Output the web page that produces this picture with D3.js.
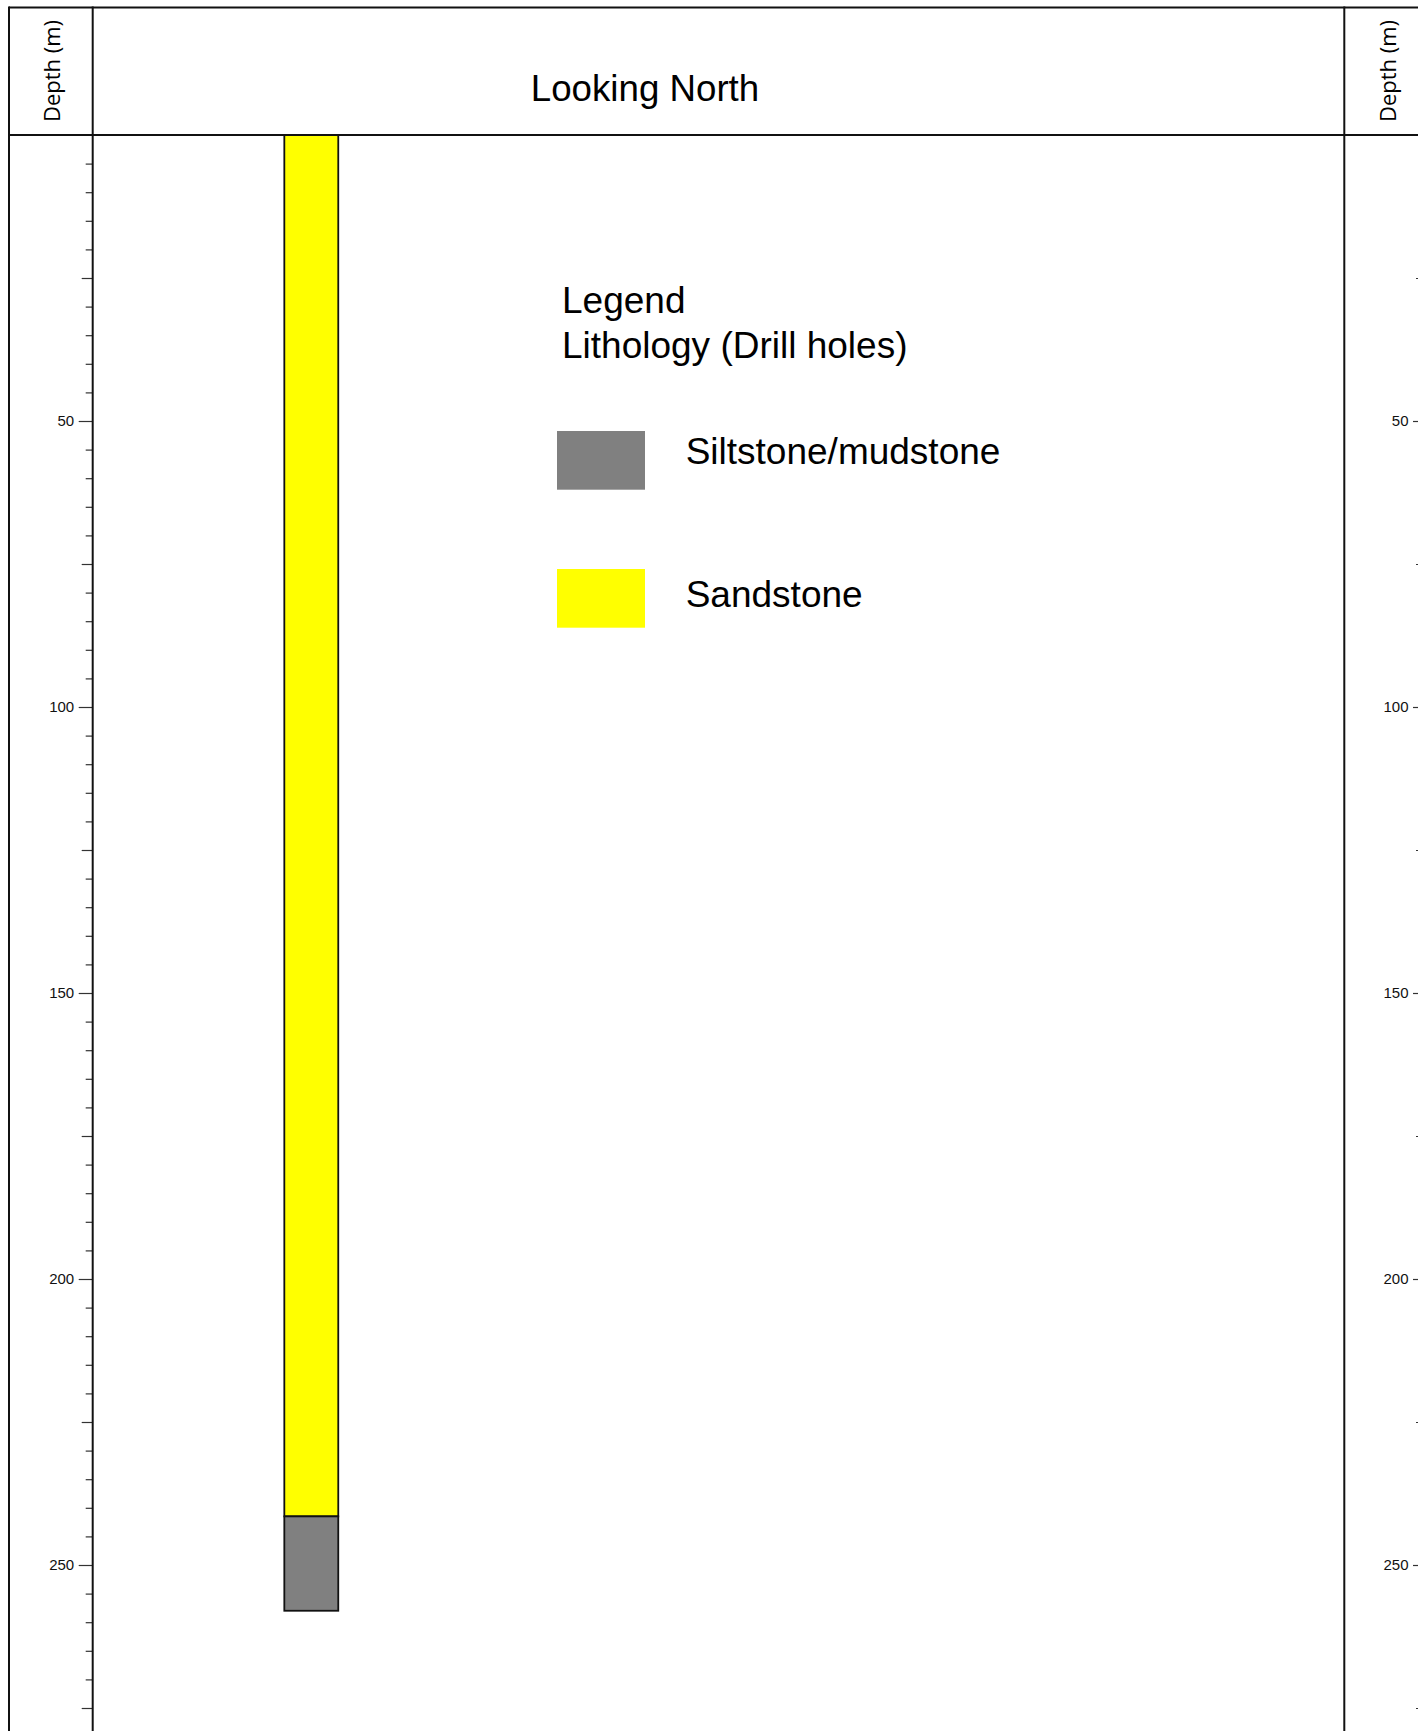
<!DOCTYPE html>
<html>
<head>
<meta charset="utf-8">
<script src="https://cdn.jsdelivr.net/npm/d3@7"></script>
<style>
  html, body { margin: 0; padding: 0; background: #fff; overflow: hidden; }
  svg { display: block; }
</style>
</head>
<body>
<script>
// ---- Data ----
const title = "Looking North";
const axisLabel = "Depth (m)";
const lithologies = ["Siltstone/mudstone", "Sandstone"];
const lithColors = ["#808080", "#FFFF00"];
const intervalLith = ["Sandstone", "Siltstone/mudstone"];
const intervalTop = [0, 241.5];
const intervalBottom = [241.5, 258];
const depthDomain = [0, 280];
const minorTicks = d3.range(5, 280, 5);
const midTicks = [25, 75, 125, 175, 225, 275];
const labelTicks = [50, 100, 150, 200, 250];
const legendTitle = ["Legend", "Lithology (Drill holes)"];

// ---- Layout ----
const W = 1418, H = 1731;
const frameL = 9, frameT = 7.5, headerB = 135;
const colL = 92.7, colR = 1344.3, rightAxisX = 1427;
const pxPerM = 5.72;

const svg = d3.select("body").append("svg").attr("width", W).attr("height", H);

const y = d3.scaleLinear().domain(depthDomain).range([headerB, headerB + (depthDomain[1]-depthDomain[0]) * pxPerM]);
const color = d3.scaleOrdinal().domain(lithologies).range(lithColors);
const xSection = d3.scaleLinear().domain([0, 1]).range([colL, colR]);
const holePos = 0.1531, holeWidth = 0.0431;

// Drill-hole intervals
const intervals = intervalLith.map((l, i) => ({lith: l, top: intervalTop[i], bottom: intervalBottom[i]}));
svg.append("g").selectAll("rect").data(intervals).join("rect")
  .attr("x", xSection(holePos))
  .attr("width", xSection(holePos + holeWidth) - xSection(holePos))
  .attr("y", d => y(d.top))
  .attr("height", d => y(d.bottom) - y(d.top))
  .attr("fill", d => color(d.lith))
  .attr("stroke", "#111")
  .attr("stroke-width", 1.8);

// Axes
function tickLen(d) { return labelTicks.includes(d) ? 14 : (midTicks.includes(d) ? 11 : 7); }
const leftAxis = d3.axisLeft(y).tickValues(minorTicks).tickSize(14).tickPadding(4)
  .tickFormat(d => labelTicks.includes(d) ? d : "");
const gL = svg.append("g").attr("transform", `translate(${colL},0)`).call(leftAxis);
const rightVals = minorTicks.filter(d => d % 25 === 0);
const rightAxis = d3.axisLeft(y).tickValues(rightVals).tickSize(14).tickPadding(4.7)
  .tickFormat(d => labelTicks.includes(d) ? d : "");
const gR = svg.append("g").attr("transform", `translate(${rightAxisX},0)`).call(rightAxis);
[gL, gR].forEach(g => {
  g.select(".domain").remove();
  g.selectAll(".tick line").attr("x2", d => -tickLen(d)).attr("stroke", "#333").attr("stroke-width", 1.2);
  g.selectAll(".tick text")
    .attr("x", d => -tickLen(d) - 4.5)
    .attr("font-family", "'Liberation Sans', Arial, sans-serif")
    .attr("font-size", 15).attr("fill", "#111");
});

// Frame lines
const lines = svg.append("g").attr("stroke", "#111").attr("stroke-width", 2).attr("fill", "none");
lines.append("line").attr("x1", frameL).attr("x2", W + 20).attr("y1", frameT).attr("y2", frameT);
lines.append("line").attr("x1", frameL).attr("x2", W + 20).attr("y1", headerB).attr("y2", headerB);
[frameL, colL, colR].forEach(x => lines.append("line").attr("x1", x).attr("x2", x).attr("y1", frameT - 1).attr("y2", H + 20));

// Header texts
svg.append("text").attr("x", 645).attr("y", 100.7).attr("text-anchor", "middle")
  .attr("font-family", "'Liberation Sans', Arial, sans-serif").attr("font-size", 36.7).attr("fill", "#000")
  .text(title);
[52, 1388].forEach(cx => {
  svg.append("text").attr("transform", `translate(${cx + 7.5},71) rotate(-90)`)
    .attr("text-anchor", "middle")
    .attr("font-family", "'Open Sans', 'Noto Sans', sans-serif").attr("font-size", 22).attr("fill", "#000")
    .text(axisLabel);
});

// Legend
const lg = svg.append("g").attr("font-family", "'Liberation Sans', Arial, sans-serif").attr("font-size", 37).attr("fill", "#000");
legendTitle.forEach((t, i) => lg.append("text").attr("x", 562).attr("y", 313.3 + i * 45).text(t));
const legY = [431, 569];
const legBase = [464, 606.5];
lithologies.forEach((l, i) => {
  lg.append("rect").attr("x", 557).attr("y", legY[i]).attr("width", 88).attr("height", 58.7).attr("fill", color(l));
  lg.append("text").attr("x", 685.7).attr("y", legBase[i]).text(l);
});
</script>
</body>
</html>
